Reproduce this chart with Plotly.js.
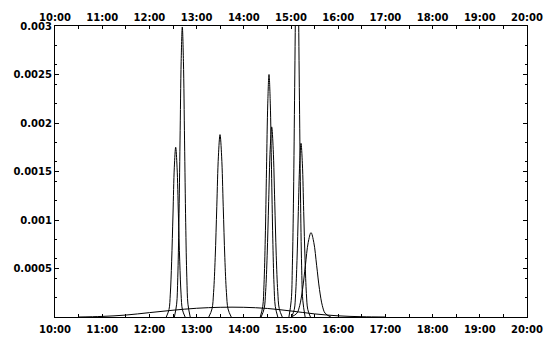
<!DOCTYPE html>
<html>
<head>
<meta charset="utf-8">
<script src="https://cdn.plot.ly/plotly-3.0.1.min.js"></script>
<style>html,body{margin:0;padding:0;background:#fff;}#chart{width:552px;height:339px;}</style>
</head>
<body>
<div id="chart"></div>
<script>
// Tick labels
var hourTicks = [10, 11, 12, 13, 14, 15, 16, 17, 18, 19, 20];
var hourLabels = ["10:00", "11:00", "12:00", "13:00", "14:00", "15:00", "16:00", "17:00", "18:00", "19:00", "20:00"];
var yTicks = [0.0005, 0.001, 0.0015, 0.002, 0.0025, 0.003];
var yLabels = ["0.0005", "0.001", "0.0015", "0.002", "0.0025", "0.003"];

// Peaks (x in hours, y values)
var peakA_x = [12.357, 12.415, 12.443, 12.471, 12.500, 12.528, 12.557, 12.586, 12.614, 12.643, 12.671, 12.699, 12.757];
var peakA_y = [0, 0.000077, 0.000236, 0.000569, 0.001062, 0.001544, 0.00175, 0.001544, 0.001062, 0.000569, 0.000236, 0.000077, 0];

var peakB_x = [12.529, 12.577, 12.601, 12.625, 12.649, 12.673, 12.697, 12.721, 12.745, 12.769, 12.793, 12.817, 12.865];
var peakB_y = [0, 0.000132, 0.000404, 0.000972, 0.001815, 0.002637, 0.00299, 0.002637, 0.001815, 0.000972, 0.000404, 0.000132, 0];

var peakC_x = [13.258, 13.326, 13.360, 13.394, 13.428, 13.462, 13.496, 13.530, 13.564, 13.598, 13.632, 13.666, 13.734];
var peakC_y = [0, 0.000083, 0.000254, 0.000611, 0.001141, 0.001658, 0.00188, 0.001658, 0.001141, 0.000611, 0.000254, 0.000083, 0];

var peakD_x = [14.349, 14.402, 14.428, 14.455, 14.481, 14.508, 14.534, 14.561, 14.587, 14.614, 14.640, 14.667, 14.720];
var peakD_y = [0, 0.00011, 0.000338, 0.000813, 0.001518, 0.002205, 0.0025, 0.002205, 0.001518, 0.000813, 0.000338, 0.00011, 0];

var peakE_x = [14.367, 14.431, 14.463, 14.495, 14.527, 14.559, 14.591, 14.623, 14.655, 14.687, 14.719, 14.751, 14.815];
var peakE_y = [0, 0.000086, 0.000265, 0.000637, 0.00119, 0.001729, 0.00196, 0.001729, 0.00119, 0.000637, 0.000265, 0.000086, 0];

var peakF_x = [14.956, 15.005, 15.029, 15.054, 15.078, 15.103, 15.127, 15.152, 15.176, 15.201, 15.225, 15.250, 15.299];
var peakF_y = [0, 0.000172, 0.000527, 0.001268, 0.002367, 0.00344, 0.0039, 0.00344, 0.002367, 0.001268, 0.000527, 0.000172, 0];

var peakG_x = [15.012, 15.070, 15.098, 15.127, 15.155, 15.184, 15.212, 15.241, 15.269, 15.298, 15.326, 15.355, 15.412];
var peakG_y = [0, 0.000079, 0.000242, 0.000582, 0.001087, 0.001579, 0.00179, 0.001579, 0.001087, 0.000582, 0.000242, 0.000079, 0];

var peakH_x = [15.004, 15.124, 15.184, 15.244, 15.304, 15.364, 15.424, 15.484, 15.544, 15.604, 15.664, 15.724, 15.844];
var peakH_y = [0, 0.000038, 0.000117, 0.000283, 0.000528, 0.000767, 0.00087, 0.000767, 0.000528, 0.000283, 0.000117, 0.000038, 0];

var broad_x = [10.5, 11, 11.5, 12, 12.5, 13, 13.5, 14, 14.5, 15, 15.5, 16, 16.5, 17];
var broad_y = [0, 0.000006, 0.00002, 0.000045, 0.00007, 0.00009, 0.0001, 0.0001, 0.000088, 0.000062, 0.000032, 0.000012, 0.000003, 0];

var series = [
  [peakA_x, peakA_y], [peakB_x, peakB_y], [peakC_x, peakC_y], [peakD_x, peakD_y],
  [peakE_x, peakE_y], [peakF_x, peakF_y], [peakG_x, peakG_y], [peakH_x, peakH_y],
  [broad_x, broad_y]
];

var traces = series.map(function (s) {
  return {
    x: s[0], y: s[1], type: 'scatter', mode: 'lines',
    line: {color: '#000', width: 1, shape: 'spline', smoothing: 1},
    hoverinfo: 'skip', showlegend: false
  };
});
// helper trace so the top axis is drawn
traces.push({x: [10, 20], y: [0, 0], xaxis: 'x2', type: 'scatter', mode: 'lines',
  line: {color: 'rgba(0,0,0,0)', width: 0}, hoverinfo: 'skip', showlegend: false});

var tickFont = {family: 'DejaVu Sans, Verdana, sans-serif', size: 10, color: '#000', weight: 'bold'};

var layout = {
  width: 552, height: 339,
  margin: {l: 55, r: 25, t: 26, b: 22, pad: 0},
  paper_bgcolor: '#fff', plot_bgcolor: '#fff',
  showlegend: false,
  xaxis: {
    range: [10, 20], tickmode: 'array', tickvals: hourTicks, ticktext: hourLabels,
    ticks: 'inside', ticklen: 3, tickcolor: '#000', tickwidth: 1,
    minor: {tickmode: 'linear', tick0: 10, dtick: 0.5, ticks: 'inside', ticklen: 3, tickcolor: '#000'},
    showline: true, linecolor: '#000', linewidth: 1, mirror: false,
    showgrid: false, zeroline: false, tickfont: tickFont, fixedrange: true,
    ticklabelstandoff: 3
  },
  xaxis2: {
    overlaying: 'x', side: 'top', matches: 'x',
    range: [10, 20], tickmode: 'array', tickvals: hourTicks, ticktext: hourLabels,
    ticks: 'inside', ticklen: 3, tickcolor: '#000', tickwidth: 1,
    minor: {tickmode: 'linear', tick0: 10, dtick: 0.5, ticks: 'inside', ticklen: 3, tickcolor: '#000'},
    showline: true, linecolor: '#000', linewidth: 1,
    showgrid: false, zeroline: false, tickfont: tickFont, fixedrange: true
  },
  yaxis: {
    range: [0, 0.003], tickmode: 'array', tickvals: yTicks, ticktext: yLabels,
    ticks: 'inside', ticklen: 4, tickcolor: '#000', tickwidth: 1,
    minor: {tickmode: 'linear', tick0: 0, dtick: 0.0002, ticks: 'inside', ticklen: 2, tickcolor: '#000'},
    showline: true, linecolor: '#000', linewidth: 1, mirror: 'ticks',
    showgrid: false, zeroline: false, tickfont: tickFont, fixedrange: true
  }
};

Plotly.newPlot('chart', traces, layout, {staticPlot: true, displayModeBar: false});
</script>
</body>
</html>
